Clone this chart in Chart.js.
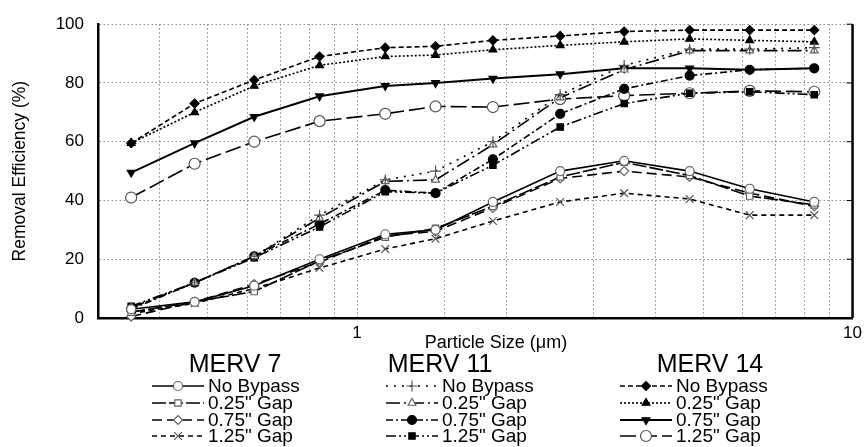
<!DOCTYPE html>
<html>
<head>
<meta charset="utf-8">
<script src="https://cdn.jsdelivr.net/npm/chart.js@4/dist/chart.umd.min.js"></script>
<style>
    html, body { margin: 0; padding: 0; background: #fff; }
    #wrap { width: 867px; height: 447px; position: relative; }
</style>
</head>
<body>
<div id="wrap"><canvas id="efficiencyChart"></canvas></div>
<script>
// particle size channels (um)
const particleSizes = [0.35, 0.47, 0.62, 0.84, 1.14, 1.44, 1.88, 2.57, 3.46, 4.69, 6.2, 8.37];

// MERV 7
const m7NoBypass = [3, 5.5, 11, 20, 28.5, 30, 39.5, 50, 53.5, 50, 44, 39.5];
const m7Gap025 = [2, 5.5, 9, 19.5, 27.5, 30.5, 38, 48, 53, 48.5, 41.5, 38.5];
const m7Gap075 = [0.5, 5.5, 11.5, 19, 28, 29.5, 37.5, 47.5, 50, 48, 42.5, 38];
const m7Gap125 = [1.5, 5, 10, 17, 23.5, 27, 33, 39.5, 42.5, 40.5, 35, 35];

// MERV 11
const m11NoBypass = [3.5, 12, 21, 35, 47, 50, 60, 76, 86, 91.5, 91.5, 92];
const m11Gap025 = [3.5, 12, 21, 34, 46.5, 47, 59, 75, 84.5, 91, 91, 91];
const m11Gap075 = [3, 12, 21, 32, 43.5, 42.5, 54, 69.5, 78, 82.5, 84.5, 85];
const m11Gap125 = [4, 12, 20.5, 31, 43, 42.5, 52, 65, 73, 76.5, 77, 76];

// MERV 14
const m14NoBypass = [59.5, 73, 81, 89, 92, 92.5, 94.5, 96, 97.5, 98, 98, 98];
const m14Gap025 = [59.5, 70, 79, 86, 89, 89.5, 91.3, 92.8, 94, 95, 94.5, 94];
const m14Gap075 = [49.5, 59.5, 68.5, 75.5, 79, 80, 81.5, 83, 85, 85, 84.5, 85];
const m14Gap125 = [41, 52.5, 60, 67, 69.5, 72, 71.8, 74.5, 75.7, 76.5, 77.3, 77];

const groupNames = ['MERV 7', 'MERV 11', 'MERV 14'];
const entryNames = ['No Bypass', '0.25" Gap', '0.75" Gap', '1.25" Gap'];
const yTicks = [0, 20, 40, 60, 80, 100];
const xLabelTicks = [1, 10];

const FONT = 'Liberation Sans, Arial, sans-serif';

function series(label, values, style) {
    return {
        label: label,
        data: values.map((v, i) => ({ x: particleSizes[i], y: v })),
        borderColor: '#000',
        borderWidth: style.width || 1.6,
        borderDash: style.dash || [],
        pointStyle: style.point,
        pointRotation: style.rotation || 0,
        pointRadius: style.radius || 4.5,
        pointBorderWidth: 1.2,
        pointBackgroundColor: style.fill,
        pointBorderColor: style.stroke || '#000',
        fill: false,
        tension: 0,
        clip: false
    };
}

const datasets = [
    series('MERV 7 ' + entryNames[0], m7NoBypass, { point: 'circle', fill: '#fff', stroke: '#666' }),
    series('MERV 7 ' + entryNames[1], m7Gap025, { point: 'rect', fill: '#fff', stroke: '#666', dash: [14, 3] }),
    series('MERV 7 ' + entryNames[2], m7Gap075, { point: 'rectRot', fill: '#fff', stroke: '#666', dash: [10, 5] }),
    series('MERV 7 ' + entryNames[3], m7Gap125, { point: 'crossRot', fill: '#fff', stroke: '#555', dash: [5, 4], radius: 5.5 }),

    series('MERV 11 ' + entryNames[0], m11NoBypass, { point: 'cross', fill: '#fff', stroke: '#555', dash: [2, 6], radius: 5.5 }),
    series('MERV 11 ' + entryNames[1], m11Gap025, { point: 'triangle', fill: '#fff', stroke: '#666', dash: [14, 4, 2, 4] }),
    series('MERV 11 ' + entryNames[2], m11Gap075, { point: 'circle', fill: '#000', dash: [7, 3, 2, 3] }),
    series('MERV 11 ' + entryNames[3], m11Gap125, { point: 'rect', fill: '#000', dash: [10, 3, 2, 3, 2, 3] }),

    series('MERV 14 ' + entryNames[0], m14NoBypass, { point: 'rectRot', fill: '#000', dash: [5, 3] }),
    series('MERV 14 ' + entryNames[1], m14Gap025, { point: 'triangle', fill: '#000', dash: [2, 2] }),
    series('MERV 14 ' + entryNames[2], m14Gap075, { point: 'triangle', rotation: 180, fill: '#000', width: 2 }),
    series('MERV 14 ' + entryNames[3], m14Gap125, { point: 'circle', fill: '#fff', stroke: '#555', dash: [16, 5], radius: 5.5 })
];

// right frame line with small inward ticks, x title and the three-column legend
const framePlugin = {
    id: 'frameAndLegend',
    afterDraw(chart) {
        const ctx = chart.ctx;
        const area = chart.chartArea;
        const yScale = chart.scales.y;
        ctx.save();
        ctx.strokeStyle = '#000';
        ctx.lineWidth = 2.5;
        ctx.beginPath();
        ctx.moveTo(area.right, area.top);
        ctx.lineTo(area.right, area.bottom);
        ctx.stroke();
        ctx.lineWidth = 1;
        yTicks.forEach(v => {
            const y = yScale.getPixelForValue(v);
            ctx.beginPath();
            ctx.moveTo(area.right - 6, y);
            ctx.lineTo(area.right, y);
            ctx.stroke();
        });

        ctx.fillStyle = '#000';
        ctx.textBaseline = 'middle';
        ctx.textAlign = 'center';
        ctx.font = '18px ' + FONT;
        ctx.fillText('Particle Size (\u03bcm)', 496, 343);

        const titleX = [235, 440, 710];
        const lineX = [152, 386, 620];
        const rowY = [386, 403, 420, 436];
        groupNames.forEach((name, g) => {
            ctx.textAlign = 'center';
            ctx.font = '25px ' + FONT;
            ctx.fillStyle = '#000';
            ctx.fillText(name, titleX[g], 365);
            entryNames.forEach((entry, i) => {
                const ds = chart.data.datasets[g * 4 + i];
                const y = rowY[i];
                ctx.strokeStyle = ds.borderColor;
                ctx.lineWidth = ds.borderWidth;
                ctx.setLineDash(ds.borderDash);
                ctx.beginPath();
                ctx.moveTo(lineX[g], y);
                ctx.lineTo(lineX[g] + 52, y);
                ctx.stroke();
                ctx.setLineDash([]);
                ctx.fillStyle = ds.pointBackgroundColor;
                ctx.strokeStyle = ds.pointBorderColor;
                ctx.lineWidth = ds.pointBorderWidth;
                Chart.helpers.drawPoint(ctx, {
                    pointStyle: ds.pointStyle,
                    rotation: ds.pointRotation,
                    radius: ds.pointRadius,
                    borderWidth: ds.pointBorderWidth
                }, lineX[g] + 26, y);
                ctx.fillStyle = '#000';
                ctx.textAlign = 'left';
                ctx.font = '19px ' + FONT;
                ctx.fillText(entry, lineX[g] + 56, y + 1);
            });
        });
        ctx.restore();
    }
};

new Chart(document.getElementById('efficiencyChart'), {
    type: 'line',
    data: { datasets: datasets },
    options: {
        responsive: true,
        maintainAspectRatio: false,
        animation: false,
        layout: { padding: { left: 8, right: 14, top: 17, bottom: 96 } },
        plugins: {
            legend: { display: false },
            tooltip: { enabled: false }
        },
        scales: {
            x: {
                type: 'logarithmic',
                min: 0.3,
                max: 10,
                afterFit: scale => { scale.height = 33; },
                grid: {
                    color: '#8a8a8a',
                    lineWidth: 1,
                    drawTicks: false
                },
                // dotted grid lines, solid axis line
                border: { display: true, color: '#000', width: 2.5, dash: [1.5, 2.5] },
                ticks: {
                    color: '#000',
                    font: { family: FONT, size: 17 },
                    padding: 5,
                    autoSkip: false,
                    maxRotation: 0,
                    callback: v => xLabelTicks.includes(v) ? String(v) : ''
                }
            },
            y: {
                min: 0,
                max: 100,
                afterFit: scale => { scale.width = 90; },
                afterBuildTicks: scale => { scale.ticks = yTicks.map(v => ({ value: v })); },
                grid: {
                    color: '#8a8a8a',
                    lineWidth: 1,
                    drawTicks: false
                },
                border: { display: true, color: '#000', width: 2.5, dash: [1.5, 2.5] },
                title: {
                    display: true,
                    text: 'Removal Efficiency (%)',
                    color: '#000',
                    font: { family: FONT, size: 17.5 },
                    padding: { top: 2, bottom: 0 }
                },
                ticks: {
                    color: '#000',
                    font: { family: FONT, size: 17 },
                    padding: 14
                }
            }
        }
    },
    plugins: [framePlugin]
});
</script>
</body>
</html>
